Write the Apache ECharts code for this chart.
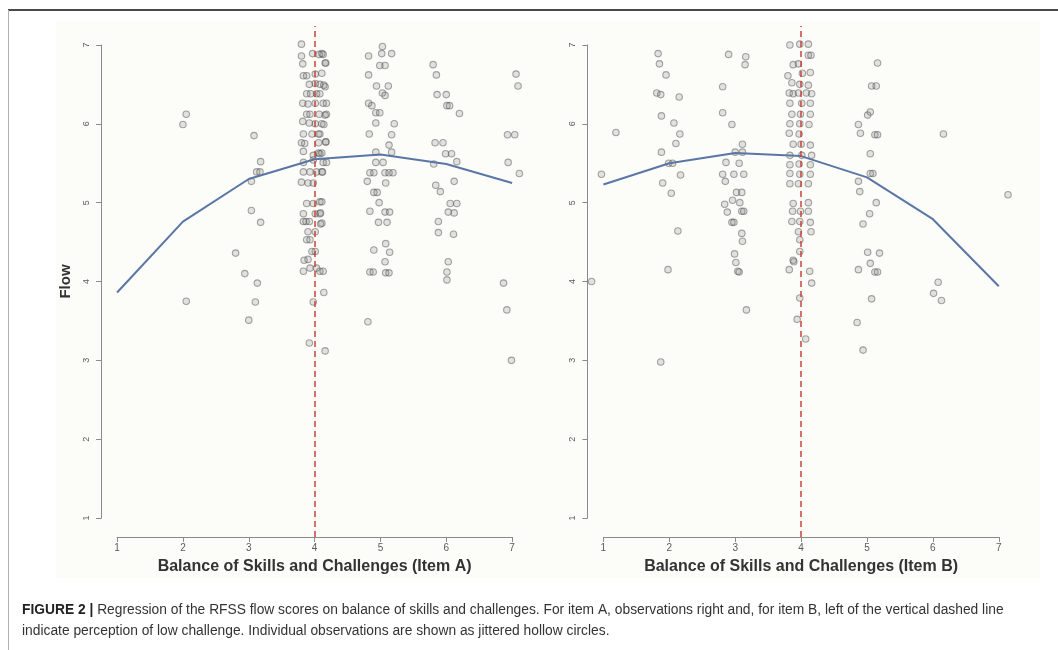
<!DOCTYPE html>
<html>
<head>
<meta charset="utf-8">
<script src="https://cdn.jsdelivr.net/npm/echarts@6/dist/echarts.min.js"></script>
<style>
html,body{margin:0;padding:0;background:#fff;}
#chart{width:1058px;height:650px;}
</style>
</head>
<body>
<div id="chart"></div>
<script>
// ---- data ----
const tickValues = [1, 2, 3, 4, 5, 6, 7];
const fitX = [1, 2, 3, 4, 5, 6, 7];
const fitA = [3.86, 4.76, 5.30, 5.55, 5.61, 5.49, 5.25];
const fitB = [5.23, 5.50, 5.63, 5.59, 5.32, 4.79, 3.94];
const cutoff = 4;

const itemAx = [
  2.05, 2.00, 2.05,
  3.08, 3.18, 3.12, 3.17, 3.04, 3.04, 3.18, 2.80, 2.94, 3.13, 3.10, 3.00,
  3.80, 3.80, 3.97, 4.07, 4.13, 4.17, 3.82, 4.01, 4.11, 3.83, 3.88, 3.92, 4.01, 4.08, 4.16,
  3.88, 3.94, 4.03, 4.08, 3.82, 3.90, 4.01, 4.13, 3.88, 3.93, 4.07, 4.18, 3.82, 3.92, 4.01, 4.11,
  3.83, 3.96, 4.06, 4.08, 3.80, 3.85, 4.06, 4.17, 3.83, 3.98, 4.06, 4.08, 4.11, 3.83, 3.98, 4.13, 4.18,
  3.83, 3.93, 4.03, 4.11, 3.80, 3.90, 3.98, 4.08, 3.88, 3.98, 3.83, 4.01, 4.08, 3.83, 3.87, 3.92, 4.11,
  3.90, 4.01, 3.88, 3.93, 3.96, 4.01, 3.90, 3.93, 4.03, 3.83, 4.08, 4.13, 4.14, 3.98, 3.92, 4.16,
  4.16, 4.11, 4.14, 4.18, 4.16, 4.14, 4.17, 4.12, 4.11, 4.09, 4.09, 3.84,
  5.03, 4.82, 5.02, 5.17, 4.99, 5.07, 4.82, 4.94, 5.12, 5.03, 5.07, 4.82, 4.87, 4.93, 4.99, 5.21, 4.93,
  4.83, 5.17, 5.13, 4.93, 5.17, 4.93, 5.04, 4.84, 4.90, 5.07, 5.13, 5.19, 4.80, 5.08, 4.90, 4.95, 4.98,
  4.84, 5.07, 5.14, 4.97, 5.10, 5.08, 4.90, 5.14, 5.07, 4.84, 4.89, 5.08, 5.13, 4.81,
  5.80, 5.85, 5.86, 6.00, 6.01, 6.05, 6.20, 5.83, 5.95, 5.99, 6.08, 5.81, 6.16, 6.12, 5.84, 5.91,
  6.06, 6.16, 6.03, 6.12, 5.88, 5.88, 6.11, 6.03, 6.01, 6.01,
  7.06, 7.09, 6.93, 7.04, 6.94, 7.11, 6.87, 6.92, 6.99
];
const itemAy = [
  6.12, 5.99, 3.75,
  5.85, 5.52, 5.39, 5.39, 5.27, 4.90, 4.75, 4.36, 4.10, 3.98, 3.74, 3.51,
  7.01, 6.86, 6.89, 6.88, 6.88, 6.77, 6.76, 6.63, 6.64, 6.61, 6.61, 6.50, 6.51, 6.50, 6.47,
  6.38, 6.38, 6.38, 6.38, 6.26, 6.25, 6.26, 6.26, 6.12, 6.12, 6.12, 6.12, 6.03, 6.01, 6.00, 6.00,
  5.87, 5.87, 5.87, 5.87, 5.76, 5.75, 5.76, 5.77, 5.65, 5.60, 5.63, 5.62, 5.63, 5.51, 5.54, 5.51, 5.51,
  5.39, 5.39, 5.39, 5.39, 5.26, 5.25, 5.25, 5.01, 4.99, 4.99, 4.86, 4.86, 4.86, 4.76, 4.76, 4.76, 4.74,
  4.63, 4.63, 4.53, 4.53, 4.38, 4.38, 4.28, 4.17, 4.17, 4.13, 4.13, 4.13, 3.86, 3.74, 3.22, 3.12,
  6.77, 6.89, 6.49, 6.26, 6.11, 5.99, 5.77, 5.39, 5.01, 4.87, 4.73, 4.27,
  6.98, 6.86, 6.89, 6.89, 6.74, 6.74, 6.62, 6.48, 6.48, 6.39, 6.36, 6.26, 6.23, 6.14, 6.14, 6.00, 6.01,
  5.87, 5.86, 5.73, 5.64, 5.64, 5.51, 5.51, 5.38, 5.38, 5.38, 5.38, 5.38, 5.27, 5.25, 5.13, 5.13, 5.00,
  4.89, 4.88, 4.88, 4.75, 4.75, 4.48, 4.40, 4.37, 4.25, 4.12, 4.12, 4.11, 4.11, 3.49,
  6.75, 6.62, 6.37, 6.37, 6.23, 6.23, 6.13, 5.76, 5.76, 5.62, 5.62, 5.49, 5.52, 5.27, 5.22, 5.14,
  4.99, 4.99, 4.88, 4.87, 4.76, 4.62, 4.60, 4.25, 4.12, 4.02,
  6.63, 6.48, 5.86, 5.86, 5.51, 5.37, 3.98, 3.64, 3.00
];

const itemBx = [
  0.82, 0.97, 1.19,
  1.83, 1.85, 1.95, 1.81, 1.87, 2.15, 1.88, 2.07, 2.16, 2.10, 1.88, 1.99, 2.05, 1.90, 2.17, 2.03, 2.13, 1.98, 1.87,
  2.90, 3.16, 3.15, 2.81, 2.81, 2.95, 3.11, 3.00, 3.11, 2.86, 3.06, 2.81, 2.98, 3.13, 2.85, 3.02, 3.10,
  2.84, 2.96, 3.07, 2.88, 3.10, 3.13, 2.95, 2.98, 3.10, 3.11, 2.99, 3.01, 3.04, 3.06, 3.17,
  3.83, 3.98, 4.11, 4.11, 4.15, 3.88, 3.96, 4.02, 4.14, 3.86, 3.98, 4.11, 3.82, 3.88, 3.96, 4.08, 4.16,
  3.83, 4.01, 4.14, 3.86, 3.99, 4.14, 3.83, 3.98, 3.82, 3.97, 3.88, 4.00, 4.14, 3.83, 4.01, 4.16,
  3.83, 3.97, 4.14, 3.83, 3.98, 4.14, 3.83, 3.96, 4.11, 3.88, 4.11, 3.87, 3.99, 4.11, 3.86, 3.98, 4.14,
  3.96, 3.98, 3.98, 3.88, 3.82, 3.89, 4.13, 4.16, 3.98, 3.94, 4.07, 3.80, 4.12, 4.15,
  5.16, 5.07, 5.14, 5.01, 5.05, 4.87, 4.90, 5.12, 5.16, 5.05, 5.05, 5.09, 4.87, 4.89, 5.14, 5.04, 4.94,
  5.01, 5.19, 5.05, 4.87, 5.12, 5.16, 5.07, 4.85, 4.94,
  6.16, 6.08, 6.01, 6.13,
  7.14
];
const itemBy = [
  4.00, 5.36, 5.89,
  6.89, 6.76, 6.62, 6.39, 6.37, 6.34, 6.10, 6.01, 5.87, 5.75, 5.64, 5.50, 5.50, 5.25, 5.35, 5.12, 4.64, 4.15, 2.98,
  6.88, 6.85, 6.75, 6.47, 6.14, 5.99, 5.74, 5.64, 5.64, 5.51, 5.50, 5.36, 5.36, 5.36, 5.27, 5.13, 5.13,
  4.98, 5.03, 5.00, 4.88, 4.89, 4.89, 4.75, 4.75, 4.61, 4.51, 4.35, 4.24, 4.13, 4.12, 3.64,
  7.00, 7.01, 7.01, 6.87, 6.87, 6.75, 6.76, 6.64, 6.65, 6.52, 6.50, 6.49, 6.39, 6.38, 6.39, 6.39, 6.38,
  6.26, 6.26, 6.26, 6.12, 6.12, 6.12, 6.00, 6.00, 5.88, 5.87, 5.74, 5.74, 5.73, 5.60, 5.60, 5.60,
  5.48, 5.49, 5.48, 5.37, 5.36, 5.36, 5.24, 5.24, 5.24, 4.99, 5.00, 4.89, 4.89, 4.89, 4.76, 4.76, 4.75,
  4.63, 4.53, 4.38, 4.27, 4.15, 4.25, 4.13, 3.98, 3.79, 3.52, 3.27, 6.61, 5.99, 4.63,
  6.77, 6.48, 6.48, 6.11, 6.15, 5.99, 5.88, 5.86, 5.86, 5.62, 5.37, 5.37, 5.27, 5.14, 5.00, 4.86, 4.73,
  4.37, 4.36, 4.23, 4.15, 4.12, 4.12, 3.78, 3.48, 3.13,
  5.87, 3.99, 3.85, 3.76,
  5.10
];

const xTitleA = 'Balance of Skills and Challenges (Item A)';
const xTitleB = 'Balance of Skills and Challenges (Item B)';
const yTitle = 'Flow';
const captionBold = 'FIGURE 2 |';
const captionLine1 = ' Regression of the RFSS flow scores on balance of skills and challenges. For item A, observations right and, for item B, left of the vertical dashed line';
const captionLine2 = 'indicate perception of low challenge. Individual observations are shown as jittered hollow circles.';

// ---- build ----
const pairs = (xs, ys) => xs.map((x, i) => [x, ys[i]]);
const fitPairs = (ys) => fitX.map((x, i) => [x, ys[i]]);

const FONT = 'Liberation Sans, Arial, sans-serif';
const axisGray = '#8a8a8a';
const labelGray = '#5a5a5a';
const lo = tickValues[0], hi = tickValues[tickValues.length - 1];
const pad = (hi - lo) * 0.04;

function dataX(i) {
  return { gridIndex: i, type: 'value', min: lo - pad, max: hi + pad, show: false };
}
function dataY(i) {
  return { gridIndex: i, type: 'value', min: lo - pad, max: hi + pad, show: false };
}
function frameX(i, title) {
  return {
    gridIndex: i, type: 'value', min: lo, max: hi, interval: 1, position: 'bottom', offset: 19,
    axisLine: { show: true, lineStyle: { color: axisGray, width: 1 } },
    axisTick: { show: true, length: 5, lineStyle: { color: axisGray } },
    axisLabel: { show: true, color: labelGray, fontSize: 10, fontFamily: FONT, margin: 6 },
    splitLine: { show: false },
    name: title, nameLocation: 'middle', nameGap: 22,
    nameTextStyle: { fontFamily: FONT, fontWeight: 'bold', fontSize: 16, color: '#333' }
  };
}
function frameY(i, withName) {
  return {
    gridIndex: i, type: 'value', min: lo, max: hi, interval: 1, position: 'left', offset: 16,
    axisLine: { show: true, lineStyle: { color: axisGray, width: 1 } },
    axisTick: { show: true, length: 5, lineStyle: { color: axisGray } },
    axisLabel: { show: true, color: labelGray, fontSize: 9, fontFamily: FONT, rotate: 90, margin: 10 },
    splitLine: { show: false },
    name: withName ? yTitle : '', nameLocation: 'middle', nameGap: 28, nameRotate: 90,
    nameTextStyle: { fontFamily: FONT, fontWeight: 'bold', fontSize: 15, color: '#333' }
  };
}

const pointStyle = {
  color: 'rgba(120,120,120,0.25)',
  borderColor: 'rgba(75,75,75,0.6)',
  borderWidth: 1.1
};
const cutLine = {
  silent: true, symbol: ['none', 'none'], label: { show: false },
  lineStyle: { color: '#c8433a', type: [6, 4], width: 1.5 },
  data: [{ xAxis: cutoff }]
};

const chart = echarts.init(document.getElementById('chart'), null, { renderer: 'canvas' });
chart.setOption({
  animation: false,
  backgroundColor: '#ffffff',
  grid: [
    { left: 101.3, top: 26, width: 426.6, height: 511 },
    { left: 117.1, top: 45, width: 395, height: 473 },
    { left: 587.6, top: 26, width: 427, height: 511 },
    { left: 603.4, top: 45, width: 395.4, height: 473 }
  ],
  xAxis: [dataX(0), frameX(1, xTitleA), dataX(2), frameX(3, xTitleB)],
  yAxis: [dataY(0), frameY(1, true), dataY(2), frameY(3, false)],
  graphic: [
    { type: 'rect', z: -10, silent: true, shape: { x: 56, y: 21, width: 984, height: 557 }, style: { fill: '#fcfcf8' } },
    { type: 'line', silent: true, shape: { x1: 8, y1: 10, x2: 1058, y2: 10 }, style: { stroke: '#4a4a4a', lineWidth: 2 } },
    { type: 'line', silent: true, shape: { x1: 8.5, y1: 10, x2: 8.5, y2: 650 }, style: { stroke: '#b0b0b0', lineWidth: 1 } },
    { type: 'text', silent: true, left: 22, top: 603, style: {
        text: '{b|' + captionBold + '}' + captionLine1,
        font: '13.8px ' + FONT, fill: '#333',
        rich: { b: { fontWeight: 'bold', fontSize: 13.8, fontFamily: FONT, fill: '#222' } }
    } },
    { type: 'text', silent: true, left: 22, top: 624, style: {
        text: captionLine2, font: '13.8px ' + FONT, fill: '#333'
    } }
  ],
  series: [
    { type: 'scatter', xAxisIndex: 0, yAxisIndex: 0, data: pairs(itemAx, itemAy), symbol: 'circle', symbolSize: 6.5, itemStyle: pointStyle, silent: true, z: 2 },
    { type: 'line', xAxisIndex: 0, yAxisIndex: 0, data: fitPairs(fitA), showSymbol: false, symbol: 'none', lineStyle: { color: '#5a76a6', width: 2 }, silent: true, z: 3, markLine: cutLine },
    { type: 'scatter', xAxisIndex: 2, yAxisIndex: 2, data: pairs(itemBx, itemBy), symbol: 'circle', symbolSize: 6.5, itemStyle: pointStyle, silent: true, z: 2 },
    { type: 'line', xAxisIndex: 2, yAxisIndex: 2, data: fitPairs(fitB), showSymbol: false, symbol: 'none', lineStyle: { color: '#5a76a6', width: 2 }, silent: true, z: 3, markLine: cutLine }
  ]
});
</script>
</body>
</html>
